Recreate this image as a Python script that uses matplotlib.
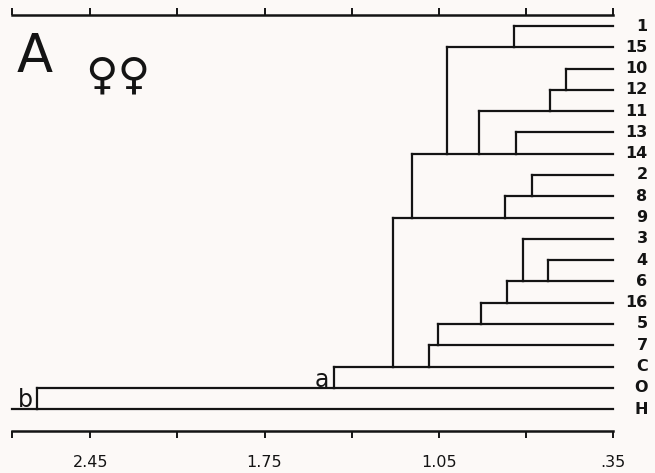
import matplotlib.pyplot as plt

# leaf order, top to bottom
leaves = ['1', '15', '10', '12', '11', '13', '14', '2', '8', '9',
          '3', '4', '6', '16', '5', '7', 'C', 'O', 'H']

# each merge joins the cluster ending on the upper leaf row with the
# cluster ending on the lower leaf row, at the given distance
merge_upper = ['1', '10', '12', '13', '11', '15', '2', '8', '14',
               '4', '3', '6', '16', '5', '7', '9', 'C', 'O']
merge_lower = ['15', '12', '11', '14', '14', '14', '8', '9', '9',
               '6', '6', '16', '5', '7', 'C', 'C', 'O', 'H']
merge_height = [0.747, 0.540, 0.603, 0.741, 0.888, 1.019, 0.677, 0.783, 1.159,
                0.611, 0.713, 0.776, 0.881, 1.052, 1.090, 1.233, 1.471, 2.664]

leaf_dist = 0.35
axis_min = 0.35
axis_max = 2.765
ticks = [2.45, 2.10, 1.75, 1.40, 1.05, 0.70, 0.35]
tick_labels = ['2.45', '', '1.75', '', '1.05', '', '.35']

ink = '#141414'
bg = '#fcf9f7'

fig = plt.figure(figsize=(6.55, 4.73), dpi=100, facecolor=bg)
ax = fig.add_axes([11.7 / 655, 1 - 431 / 473, (613.2 - 11.7) / 655, (431 - 15) / 473])
ax.set_facecolor(bg)
ax.set_xlim(axis_max, axis_min)
ax.set_ylim(19.03, -0.517)

row = {name: i for i, name in enumerate(leaves)}
current = {name: leaf_dist for name in leaves}
lw = 1.6
for up, low, h in zip(merge_upper, merge_lower, merge_height):
    ax.plot([current[up], h], [row[up], row[up]], color=ink, lw=lw, clip_on=False)
    ax.plot([current[low], h], [row[low], row[low]], color=ink, lw=lw, clip_on=False)
    ax.plot([h, h], [row[up], row[low]], color=ink, lw=lw, clip_on=False)
    current[low] = h
root = merge_lower[-1]
ax.plot([current[root], axis_max], [row[root], row[root]], color=ink, lw=lw, clip_on=False)

for name in leaves:
    ax.text(0.212, row[name], name, ha='right', va='center', fontsize=11.5,
            fontweight='bold', color=ink, clip_on=False)

# axes: lines top and bottom only
for side in ['left', 'right']:
    ax.spines[side].set_visible(False)
for side in ['top', 'bottom']:
    ax.spines[side].set_linewidth(1.8)
    ax.spines[side].set_color(ink)
ax.set_yticks([])
ax.set_xticks(ticks + [axis_max])
ax.set_xticklabels(tick_labels + [''], fontsize=11.5, color=ink)
ax.tick_params(axis='x', which='both', top=True, bottom=True, direction='out',
               length=5, width=1.4, colors=ink, pad=12)

# panel annotations
ax.text(0.008, 0.90, 'A', transform=ax.transAxes, fontsize=38, color=ink,
        ha='left', va='center')
ax.text(0.122, 0.853, '♀♀', transform=ax.transAxes, fontsize=32, color=ink,
        ha='left', va='center')
ax.text(1.49, row['O'] - 0.35, 'a', fontsize=17, color=ink, ha='right', va='center')
ax.text(2.68, row['H'] - 0.45, 'b', fontsize=17, color=ink, ha='right', va='center')

fig.savefig('out.png', dpi=100, facecolor=bg)
